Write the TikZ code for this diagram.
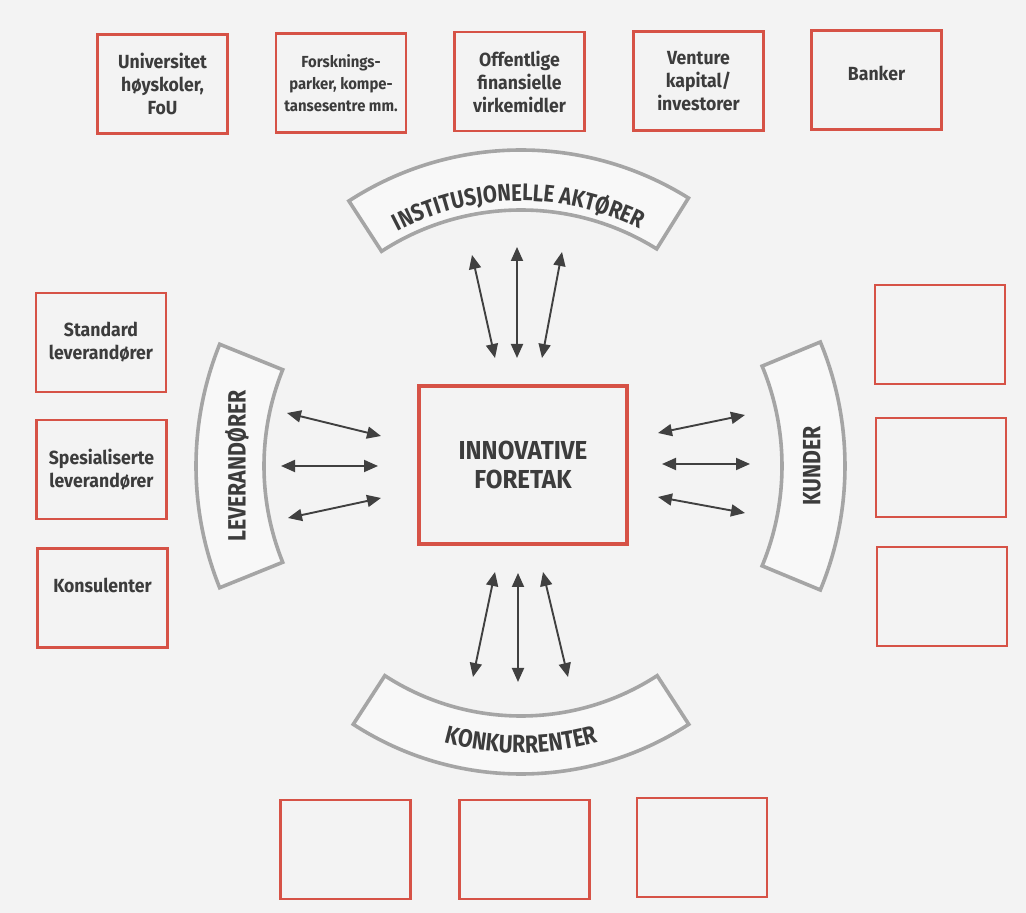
\documentclass[tikz,border=0pt]{standalone}
\usepackage{fontspec}
\newfontfamily\boxfont[FakeStretch=0.93]{Fira Sans}
\newfontfamily\arcfont[FakeStretch=0.85]{Fira Sans}
\usetikzlibrary{arrows.meta,decorations.text}
\definecolor{bg}{HTML}{F3F3F3}
\definecolor{redb}{RGB}{214,82,70}
\definecolor{arcg}{RGB}{165,165,165}
\definecolor{txt}{RGB}{60,60,60}
\definecolor{arw}{RGB}{64,64,64}
\tikzset{
  rbox/.style={draw=redb, line width=2.6pt, minimum width=130pt, minimum height=99pt,
    inner sep=0pt, outer sep=0pt, align=center, text=txt,
    font=\boxfont\bfseries\fontsize{19}{23}\selectfont},
  smalltxt/.style={font=\boxfont\bfseries\fontsize{16}{22}\selectfont},
  boxtext/.style={inner sep=0pt, text=txt, font=\boxfont\bfseries\fontsize{19}{23}\selectfont},
  mainbox/.style={draw=redb, line width=4pt, minimum width=208pt, minimum height=158pt,
    inner sep=0pt, outer sep=0pt, align=center, text=txt,
    font=\boxfont\bfseries\fontsize{26}{29}\selectfont},
  band/.style={draw=arcg, line width=3.6pt, fill=white!45!bg, line join=miter},
  dbl/.style={arw, line width=1.9pt, {Triangle[length=14pt,width=12pt]}-{Triangle[length=14pt,width=12pt]}},
  arclabel/.style={inner sep=0pt, text=txt, font=\arcfont\bfseries\fontsize{25}{25}\selectfont},
}
\begin{document}
\begin{tikzpicture}[x=1pt,y=1pt]
\fill[bg] (0,0) rectangle (1026,913);
\useasboundingbox (0,0) rectangle (1026,913);

% top boxes
\node[rbox] (uni) at (162.5,829) {Universitet\\høyskoler,\\FoU};
\node[rbox,smalltxt] (forsk) at (341,830) {Forsknings-\\parker, kompe-\\tansesentre mm.};
\node[rbox] (off) at (519.5,831.5) {Offentlige\\finansielle\\virkemidler};
\node[rbox] (vent) at (698.5,832) {Venture\\kapital/\\investorer};
\node[rbox] (bank) at (876.5,833) {};
\node[boxtext] (banktxt) at (876.5,840) {Banker};

% left boxes
\node[rbox] (std) at (101,570.5) {Standard\\leverandører};
\node[rbox] (spes) at (101.5,443.5) {Spesialiserte\\leverandører};
\node[rbox] (kons) at (102.5,315) {};
\node[boxtext] (konstxt) at (102.5,328) {Konsulenter};

% right boxes
\node[rbox] (k1) at (940,578.5) {};
\node[rbox] (k2) at (941,445.5) {};
\node[rbox] (k3) at (942,316.5) {};

% bottom boxes
\node[rbox] (c1) at (345.5,63.5) {};
\node[rbox] (c2) at (524.5,63.5) {};
\node[rbox] (c3) at (702,65.5) {};

% centre
\node[mainbox] (inno) at (523,448) {INNOVATIVE\\FORETAK};

% bands
\begin{scope}[shift={(521,447)}]
  \draw[band] (123:316) arc[start angle=123,end angle=58,radius=316] -- (58:256)
     arc[start angle=58,end angle=123,radius=256] -- cycle;
  \path[decorate,decoration={text along path,text align=center,
     text={|\arcfont\bfseries\fontsize{24}{24}\selectfont\color{txt}|INSTITUSJONELLE AKTØRER}}]
     (124:265) arc[start angle=124,end angle=57,radius=265];
  \draw[band] (158:325) arc[start angle=158,end angle=202,radius=325] -- (202:257)
     arc[start angle=202,end angle=158,radius=257] -- cycle;
  \draw[band] (-22.5:324) arc[start angle=-22.5,end angle=22.5,radius=324] -- (22.5:261)
     arc[start angle=22.5,end angle=-22.5,radius=261] -- cycle;
  \draw[band] (237:308) arc[start angle=237,end angle=303,radius=308] -- (303:250)
     arc[start angle=303,end angle=237,radius=250] -- cycle;
  \path[decorate,decoration={text along path,text align=center,
     text={|\arcfont\bfseries\fontsize{25}{25}\selectfont\color{txt}|KONKURRENTER}}]
     (236:287) arc[start angle=236,end angle=304,radius=287];
\end{scope}
\node[arclabel,rotate=90] (lev) at (237,447) {LEVERANDØRER};
\node[arclabel,rotate=90] (kun) at (812,447) {KUNDER};

% arrow ends
\coordinate (t1a) at (472,658); \coordinate (t1b) at (495,555);
\coordinate (t2a) at (517,666); \coordinate (t2b) at (517,555);
\coordinate (t3a) at (562,661); \coordinate (t3b) at (542,555);
\coordinate (b1a) at (495,341); \coordinate (b1b) at (473,236);
\coordinate (b2a) at (518,340); \coordinate (b2b) at (518,231);
\coordinate (b3a) at (543,341); \coordinate (b3b) at (568,236);
\coordinate (l1a) at (287,500); \coordinate (l1b) at (381,477);
\coordinate (l2a) at (281,447); \coordinate (l2b) at (378,447);
\coordinate (l3a) at (288,395); \coordinate (l3b) at (381,415);
\coordinate (r1a) at (658,480); \coordinate (r1b) at (745,498);
\coordinate (r2a) at (662,449); \coordinate (r2b) at (750,449);
\coordinate (r3a) at (658,416); \coordinate (r3b) at (745,400);

\foreach \p in {t1,t2,t3,b1,b2,b3,l1,l2,l3,r1,r2,r3}
  \draw[dbl] (\p a) -- (\p b);
\end{tikzpicture}
\end{document}
